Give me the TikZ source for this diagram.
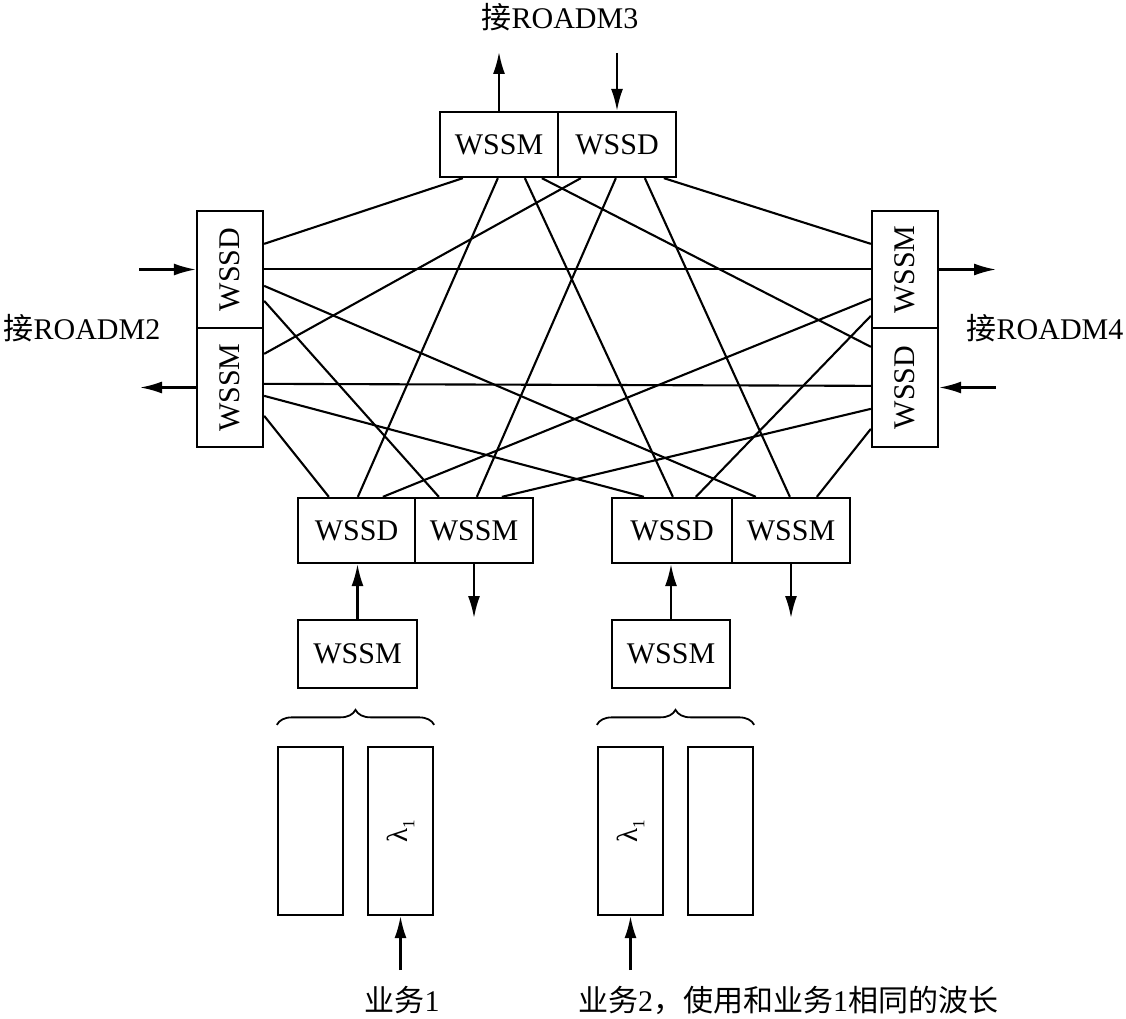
\documentclass[tikz,border=0pt]{standalone}
\usepackage{fontspec}
\setmainfont{Liberation Serif}
\newfontfamily\cjk{Noto Sans CJK SC}
\usetikzlibrary{arrows.meta,calc,decorations.pathreplacing}
\newcommand{\lamone}{λ\raisebox{-0.25em}{\fontsize{17}{17}\selectfont 1}}
\begin{document}
\begin{tikzpicture}[x=1pt,y=-1pt,
  box/.style={draw,line width=2.3pt,inner sep=0pt,font=\fontsize{30}{36}\selectfont},
  link/.style={line width=2.1pt},
  arr/.style={line width=2.1pt,-{Latex[length=22pt,width=12pt]}},
  lbl/.style={font=\fontsize{30}{36}\selectfont,inner sep=0pt},
  lam/.style={font=\fontsize{29}{32}\selectfont},
  brc/.style={decorate,decoration={brace,amplitude=15pt},line width=1.8pt}]
\useasboundingbox (0,0) rectangle (1126,1019);
% top
\node[box,minimum width=118pt,minimum height=65pt] (TM) at (499,144.5) {WSSM};
\node[box,minimum width=118pt,minimum height=65pt] (TD) at (617,144.5) {WSSD};
% left
\node[box,minimum width=66pt,minimum height=117pt] (LD) at (230,269.5) {\rotatebox{90}{WSSD}};
\node[box,minimum width=66pt,minimum height=119pt] (LM) at (230,387.5) {\rotatebox{90}{WSSM}};
% right
\node[box,minimum width=66pt,minimum height=117pt] (RM) at (905,269.5) {\rotatebox{90}{WSSM}};
\node[box,minimum width=66pt,minimum height=119pt] (RD) at (905,387.5) {\rotatebox{90}{WSSD}};
% bottom
\node[box,minimum width=117pt,minimum height=65pt] (B1D) at (356.5,530.5) {WSSD};
\node[box,minimum width=118pt,minimum height=65pt] (B1M) at (474,530.5) {WSSM};
\node[box,minimum width=120pt,minimum height=65pt] (B2D) at (672,530.5) {WSSD};
\node[box,minimum width=118pt,minimum height=65pt] (B2M) at (791,530.5) {WSSM};
\node[box,minimum width=119pt,minimum height=68pt] (W1) at (357.5,654) {WSSM};
\node[box,minimum width=118pt,minimum height=68pt] (W2) at (671,654) {WSSM};
% wavelength slots
\node[box,minimum width=65pt,minimum height=168pt] (R1) at (310.5,831) {};
\node[box,lam,minimum width=65pt,minimum height=168pt] (R2) at (400.5,831) {\rotatebox{90}{\lamone}};
\node[box,lam,minimum width=65pt,minimum height=168pt] (R3) at (630.5,831) {\rotatebox{90}{\lamone}};
\node[box,minimum width=65pt,minimum height=168pt] (R4) at (720.5,831) {};
% labels
\node[lbl] (L3) at (560,17) {{\cjk 接}ROADM3};
\node[lbl] (L2) at (82,328) {{\cjk 接}ROADM2};
\node[lbl] (L4) at (1045,328) {{\cjk 接}ROADM4};
\node[lbl] (S1) at (402,1000) {{\cjk 业务}1};
\node[lbl,anchor=west] (S2) at (578,1000) {{\cjk 业务}2{\cjk ，使用和业务}1{\cjk 相同的波长}};
% free ends
\coordinate (o3) at (499,52);
\coordinate (i3) at (617,53);
\coordinate (i2) at (139,269.5);
\coordinate (o2) at (140,387.5);
\coordinate (o4) at (996,269.5);
\coordinate (i4) at (996,387.5);
\coordinate (d1) at (474,618);
\coordinate (d2) at (791,618);
\coordinate (s1) at (400.5,970);
\coordinate (s2) at (630.5,970);
% mesh links
\draw[link] ($(TM.south west)+(24,0)$) -- ($(LD.north east)+(0,34)$);
\draw[link] ($(TM.south west)+(59,0)$) -- ($(B1D.north west)+(61,0)$);
\draw[link] ($(TM.south west)+(86,0)$) -- ($(B2D.north west)+(62,0)$);
\draw[link] ($(TM.south west)+(103,0)$) -- ($(RD.north west)+(0,20)$);
\draw[link] ($(TD.south west)+(24,0)$) -- ($(LM.north east)+(0,27)$);
\draw[link] ($(TD.south west)+(59,0)$) -- ($(B1M.north west)+(63,0)$);
\draw[link] ($(TD.south west)+(88,0)$) -- ($(B2M.north west)+(59,0)$);
\draw[link] ($(TD.south west)+(107,0)$) -- ($(RM.north west)+(0,34)$);
\draw[link] ($(LD.north east)+(0,59)$) -- ($(RM.north west)+(0,59)$);
\draw[link] ($(LD.north east)+(0,76)$) -- ($(B2M.north west)+(25,0)$);
\draw[link] ($(LD.north east)+(0,91)$) -- ($(B1M.north west)+(25,0)$);
\draw[link] ($(LM.north east)+(0,57)$) -- ($(RD.north west)+(0,59)$);
\draw[link] ($(LM.north east)+(0,69)$) -- ($(B2D.north west)+(33,0)$);
\draw[link] ($(LM.north east)+(0,89)$) -- ($(B1D.north west)+(32,0)$);
\draw[link] ($(RM.north west)+(0,89)$) -- ($(B1D.north west)+(86,0)$);
\draw[link] ($(RM.north west)+(0,106)$) -- ($(B2D.north west)+(85,0)$);
\draw[link] ($(RD.north west)+(0,82)$) -- ($(B1M.north west)+(88,0)$);
\draw[link] ($(RD.north west)+(0,102)$) -- ($(B2M.north west)+(86,0)$);
% arrows
\draw[arr] (TM.north) -- (o3);
\draw[arr] (i3) -- (TD.north);
\draw[arr] (i2) -- (LD.west);
\draw[arr] (LM.west) -- (o2);
\draw[arr] (RM.east) -- (o4);
\draw[arr] (i4) -- (RD.east);
\draw[arr] (W1.north) -- (W1.north |- B1D.south);
\draw[arr] (B1M.south) -- (d1);
\draw[arr] (W2.north) -- (W2.north |- B2D.south);
\draw[arr] (B2M.south) -- (d2);
\draw[arr] (s1) -- (R2.south);
\draw[arr] (s2) -- (R3.south);
% braces
\draw[brc] ($(R1.north west)+(0,-21)$) -- ($(R2.north east)+(0,-21)$);
\draw[brc] ($(R3.north west)+(0,-21)$) -- ($(R4.north east)+(0,-21)$);
\end{tikzpicture}
\end{document}
